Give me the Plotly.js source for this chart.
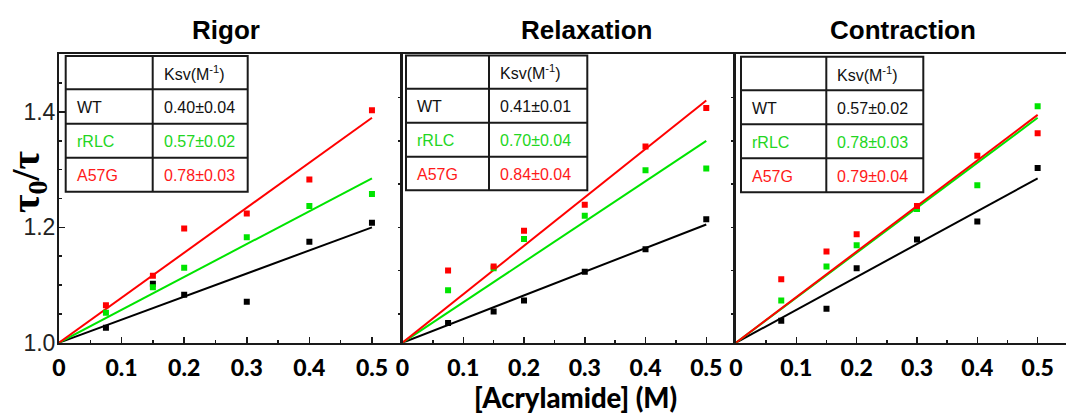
<!DOCTYPE html>
<html>
<head>
<meta charset="utf-8">
<script src="https://cdn.plot.ly/plotly-3.0.1.min.js"></script>
<style>html,body{margin:0;padding:0;background:#fff;}#chart{width:1066px;height:416px;}</style>
</head>
<body>
<div id="chart"></div>
<script>
// ---------------- data ----------------
const conc = [0.075, 0.15, 0.2, 0.3, 0.4, 0.5];
const fitX = [0, 0.5];

const panelTitles = ["Rigor", "Relaxation", "Contraction"];
const seriesNames = ["WT", "rRLC", "A57G"];

const rigorWT   = [1.026, 1.102, 1.083, 1.071, 1.175, 1.208];
const rigorRLC  = [1.052, 1.096, 1.130, 1.183, 1.237, 1.258];
const rigorA57G = [1.065, 1.116, 1.198, 1.224, 1.283, 1.403];
const rigorFit  = [[1.0, 1.200], [1.0, 1.285], [1.0, 1.390]];
const rigorKsv  = ["0.40±0.04", "0.57±0.02", "0.78±0.03"];

const relaxWT   = [1.034, 1.054, 1.073, 1.123, 1.162, 1.214];
const relaxRLC  = [1.091, 1.129, 1.180, 1.220, 1.299, 1.302];
const relaxA57G = [1.125, 1.132, 1.194, 1.239, 1.340, 1.407];
const relaxFit  = [[1.0, 1.205], [1.0, 1.350], [1.0, 1.420]];
const relaxKsv  = ["0.41±0.01", "0.70±0.04", "0.84±0.04"];

const contrWT   = [1.038, 1.059, 1.129, 1.179, 1.210, 1.303];
const contrRLC  = [1.073, 1.132, 1.169, 1.232, 1.273, 1.410];
const contrA57G = [1.110, 1.158, 1.188, 1.237, 1.324, 1.363];
const contrFit  = [[1.0, 1.285], [1.0, 1.390], [1.0, 1.395]];
const contrKsv  = ["0.57±0.02", "0.78±0.03", "0.79±0.04"];

const xTickVals = [0, 0.1, 0.2, 0.3, 0.4, 0.5];
const yTickVals = [1.0, 1.2, 1.4];
const sideTickVals = [1.05, 1.125, 1.2, 1.275, 1.35, 1.425];

// ---------------- styling ----------------
const W = 1066, H = 416;
const colors = ["#000000", "#00e400", "#ff0000"];
const textColors = ["#111111", "#22d622", "#ff1a1a"];
const px = v => v / W;
const py = v => 1 - v / H;
const boldFam = "Lato, 'Open Sans', sans-serif";

const panels = [
  {data: [rigorWT, rigorRLC, rigorA57G], fit: rigorFit, ksv: rigorKsv,
   dom: [59, 399.5], range: [0, 0.544], titleX: 225.5,
   tbl: {l: 65.7, r: 247.7, s: 152.7, rows: [56, 89.3, 123.7, 157.7, 191.7]}},
  {data: [relaxWT, relaxRLC, relaxA57G], fit: relaxFit, ksv: relaxKsv,
   dom: [402.5, 733], range: [0, 0.544], titleX: 586.5,
   tbl: {l: 406, r: 587.3, s: 489, rows: [55.5, 88.7, 122.7, 156.7, 190.3]}},
  {data: [contrWT, contrRLC, contrA57G], fit: contrFit, ksv: contrKsv,
   dom: [736, 1066], range: [0, 0.547], titleX: 902.5,
   tbl: {l: 741, r: 923.3, s: 826.3, rows: [56.7, 90.3, 124.3, 158.3, 192.3]}}
];

const yTop = 54.3, yBot = 342.7;
const traces = [];
const layout = {
  width: W, height: H,
  margin: {l: 0, r: 0, t: 0, b: 0},
  paper_bgcolor: "#fff", plot_bgcolor: "#fff",
  showlegend: false,
  shapes: [], annotations: []
};

panels.forEach((p, i) => {
  const n = i === 0 ? "" : String(i + 1);
  const xa = "x" + n, ya = "y" + n;
  p.fit.forEach((f, k) => {
    traces.push({x: fitX, y: f, xaxis: xa, yaxis: ya, type: "scatter", mode: "lines",
      line: {color: colors[k], width: 2}, hoverinfo: "skip"});
  });
  p.data.forEach((d, k) => {
    traces.push({x: conc, y: d, xaxis: xa, yaxis: ya, type: "scatter", mode: "markers",
      name: seriesNames[k],
      marker: {symbol: "square", size: 6, color: colors[k]}});
  });

  layout["xaxis" + n] = {
    domain: [px(p.dom[0]), px(p.dom[1])], range: p.range, anchor: ya,
    showline: true, linewidth: 2, linecolor: "#1a1a1a", mirror: true,
    ticks: "inside", ticklen: 6, tickwidth: 1.5, tickcolor: "#1a1a1a",
    tickvals: xTickVals, ticktext: xTickVals.map(v => String(v)),
    minor: {dtick: 0.05, tick0: 0, ticks: "inside", ticklen: 3, tickwidth: 1.5, tickcolor: "#1a1a1a"},
    showgrid: false, zeroline: false, fixedrange: true,
    tickfont: {family: boldFam, size: 23, weight: 900, color: "#000"},
    ticklabelstandoff: 4
  };
  const yax = {
    domain: [py(yBot), py(yTop)], range: [1.0, 1.5], anchor: xa,
    showline: true, linewidth: 2, linecolor: "#1a1a1a", mirror: i < 2,
    showgrid: false, zeroline: false, fixedrange: true
  };
  if (i === 0) {
    Object.assign(yax, {
      ticks: "inside", ticklen: 6, tickwidth: 1.5, tickcolor: "#1a1a1a",
      tickvals: yTickVals, ticktext: yTickVals.map(v => v.toFixed(1)),
      minor: {dtick: 0.05, tick0: 1.0, ticks: "inside", ticklen: 3, tickwidth: 1.5, tickcolor: "#1a1a1a"},
      tickfont: {family: "'Liberation Sans', Arial, sans-serif", size: 23, color: "#222"},
      ticklabelstandoff: -3
    });
  } else {
    Object.assign(yax, {
      ticks: "outside", ticklen: 3, tickwidth: 1.5, tickcolor: "#1a1a1a",
      tickvals: sideTickVals, showticklabels: false
    });
  }
  layout["yaxis" + n] = yax;

  layout.annotations.push({xref: "paper", yref: "paper", x: px(p.titleX), y: py(30),
    xanchor: "center", yanchor: "middle", showarrow: false, text: panelTitles[i],
    font: {family: "'Liberation Sans', Arial, sans-serif", size: 26, weight: "bold", color: "#000"}});

  const t = p.tbl;
  const lc = {color: "#1a1a1a", width: 2};
  layout.shapes.push({type: "rect", xref: "paper", yref: "paper",
    x0: px(t.l), x1: px(t.r), y0: py(t.rows[0]), y1: py(t.rows[4]), line: lc, fillcolor: "#fff", layer: "above"});
  layout.shapes.push({type: "line", xref: "paper", yref: "paper",
    x0: px(t.s), x1: px(t.s), y0: py(t.rows[0]), y1: py(t.rows[4]), line: lc, layer: "above"});
  for (let r = 1; r <= 3; r++) {
    layout.shapes.push({type: "line", xref: "paper", yref: "paper",
      x0: px(t.l), x1: px(t.r), y0: py(t.rows[r]), y1: py(t.rows[r]), line: lc, layer: "above"});
  }
  const tf = (c) => ({family: "'Liberation Sans', Arial, sans-serif", size: 16, color: c});
  layout.annotations.push({xref: "paper", yref: "paper", x: px(t.s + 9), y: py((t.rows[0] + t.rows[1]) / 2),
    xanchor: "left", yanchor: "middle", showarrow: false,
    text: "Ksv(M<sup>-1</sup>)", font: tf("#111")});
  for (let k = 0; k < 3; k++) {
    const yc = (t.rows[k + 1] + t.rows[k + 2]) / 2 + 1;
    layout.annotations.push({xref: "paper", yref: "paper", x: px(t.l + 9), y: py(yc),
      xanchor: "left", yanchor: "middle", showarrow: false,
      text: seriesNames[k], font: tf(textColors[k])});
    layout.annotations.push({xref: "paper", yref: "paper", x: px(t.s + 9), y: py(yc),
      xanchor: "left", yanchor: "middle", showarrow: false,
      text: p.ksv[k], font: tf(textColors[k])});
  }
});

layout.annotations.push({xref: "paper", yref: "paper", x: px(575), y: py(397.5),
  xanchor: "center", yanchor: "middle", showarrow: false, text: "[Acrylamide] (M)",
  font: {family: boldFam, size: 27.5, weight: 900, color: "#000"}});
layout.annotations.push({xref: "paper", yref: "paper", x: px(28), y: py(182),
  xanchor: "center", yanchor: "middle", showarrow: false, textangle: -90,
  text: "τ<sub>0</sub>/τ",
  font: {family: "'Liberation Serif', serif", size: 40, weight: "bold", color: "#000"}});

Plotly.newPlot("chart", traces, layout, {displayModeBar: false, staticPlot: true});
</script>
</body>
</html>
